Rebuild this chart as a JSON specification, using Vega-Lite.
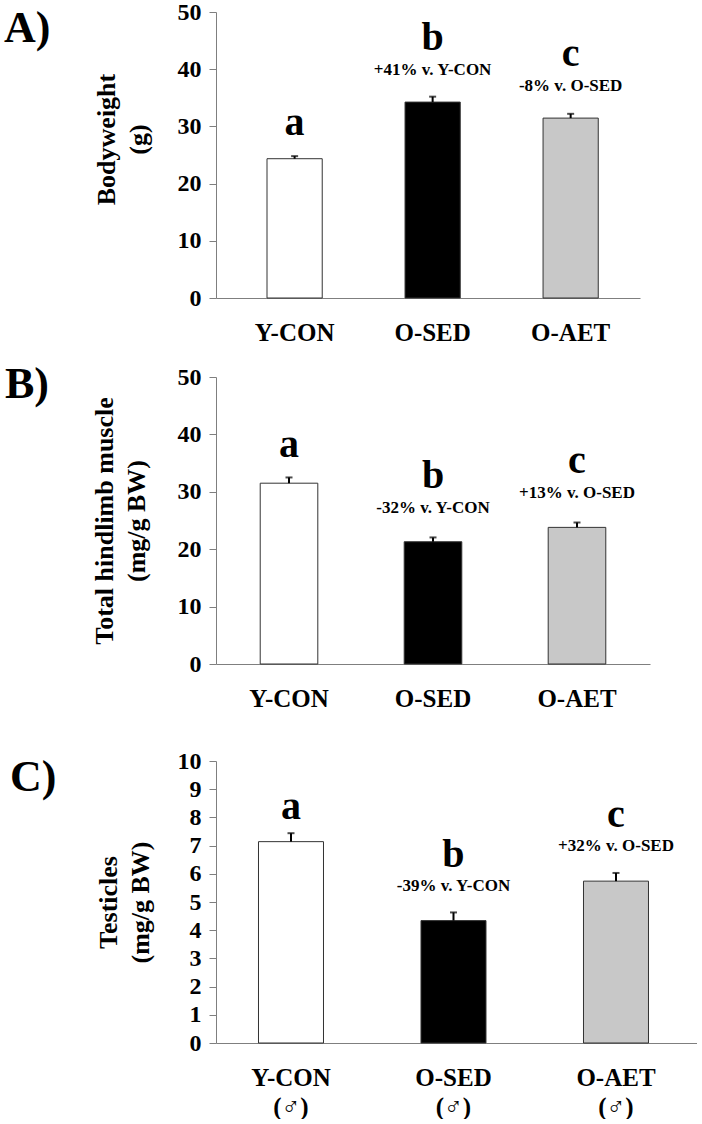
{
  "$schema": "https://vega.github.io/schema/vega-lite/v6.json",
  "background": "white",
  "padding": {"left": 4, "top": 0, "right": 0, "bottom": 0},
  "datasets": {
    "A": [
      {"group": "Y-CON", "value": 24.35, "upper": 24.8, "letter": "a", "note": ""},
      {"group": "O-SED", "value": 34.25, "upper": 35.2, "letter": "b", "note": "+41% v. Y-CON"},
      {"group": "O-AET", "value": 31.45, "upper": 32.2, "letter": "c", "note": "-8% v. O-SED"}
    ],
    "B": [
      {"group": "Y-CON", "value": 31.5, "upper": 32.5, "letter": "a", "note": ""},
      {"group": "O-SED", "value": 21.3, "upper": 22.05, "letter": "b", "note": "-32% v. Y-CON"},
      {"group": "O-AET", "value": 23.8, "upper": 24.65, "letter": "c", "note": "+13% v. O-SED"}
    ],
    "C": [
      {"group": "Y-CON", "value": 7.14, "upper": 7.44, "letter": "a", "note": ""},
      {"group": "O-SED", "value": 4.34, "upper": 4.63, "letter": "b", "note": "-39% v. Y-CON"},
      {"group": "O-AET", "value": 5.74, "upper": 6.03, "letter": "c", "note": "+32% v. O-SED"}
    ]
  },
  "config": {
    "view": {"stroke": null},
    "font": "Liberation Serif",
    "axis": {
      "grid": false,
      "domainColor": "#7f7f7f",
      "tickColor": "#7f7f7f",
      "labelFont": "Liberation Serif",
      "labelFontWeight": "bold",
      "labelColor": "black",
      "titleFont": "Liberation Serif",
      "titleFontWeight": "bold",
      "titleColor": "black"
    },
    "axisX": {"ticks": false, "labelAngle": 0, "labelPadding": 22, "labelFontSize": 25, "title": null},
    "axisY": {"tickSize": 7, "labelPadding": 8, "labelFontSize": 24, "titleFontSize": 26, "titleLineHeight": 32},
    "title": {
      "font": "Liberation Serif",
      "fontSize": 44,
      "fontWeight": "bold",
      "color": "black",
      "anchor": "start",
      "frame": "group",
      "offset": 0,
      "baseline": "alphabetic"
    }
  },
  "spacing": 38,
  "vconcat": [
    {
      "spacing": 18,
      "vconcat": [
        {
          "width": 424,
          "height": 286,
          "data": {"name": "A"},
          "title": {"text": "A)", "dx": -212, "dy": 55},
          "encoding": {
            "x": {"field": "group", "type": "nominal", "sort": ["Y-CON", "O-SED", "O-AET"],
                  "scale": {"paddingInner": 0.6, "paddingOuter": 0.336, "align": 0.55}}
          },
          "layer": [
            {
              "mark": {"type": "bar", "stroke": "#333333", "strokeWidth": 1},
              "encoding": {
                "y": {"field": "value", "type": "quantitative",
                      "scale": {"domain": [0, 50], "nice": false},
                      "axis": {"values": [0, 10, 20, 30, 40, 50], "tickCount": 20, "format": "d", "labelOverlap": false, "title": ["Bodyweight", "(g)"], "titlePadding": 26, "titleY": 127}},
                "color": {"field": "group", "type": "nominal",
                          "scale": {"domain": ["Y-CON", "O-SED", "O-AET"], "range": ["#ffffff", "#000000", "#c8c8c8"]},
                          "legend": null}
              }
            },
            {
              "mark": {"type": "rule", "color": "black", "strokeWidth": 2},
              "encoding": {"y": {"field": "value", "type": "quantitative"}, "y2": {"field": "upper"}}
            },
            {
              "mark": {"type": "tick", "color": "black", "thickness": 2, "size": 7},
              "encoding": {"y": {"field": "upper", "type": "quantitative"}}
            },
            {
              "transform": [{"filter": "datum.note != ''"}],
              "mark": {"type": "text", "fontSize": 17, "fontWeight": "bold", "baseline": "alphabetic", "dy": -27, "color": "black"},
              "encoding": {"y": {"field": "value", "type": "quantitative"}, "text": {"field": "note"}}
            },
            {
              "transform": [{"filter": "datum.note != ''"}],
              "mark": {"type": "text", "fontSize": 40, "fontWeight": "bold", "baseline": "alphabetic", "dy": -52, "color": "black"},
              "encoding": {"y": {"field": "value", "type": "quantitative"}, "text": {"field": "letter"}}
            },
            {
              "transform": [{"filter": "datum.note == ''"}],
              "mark": {"type": "text", "fontSize": 40, "fontWeight": "bold", "baseline": "alphabetic", "dy": -24, "color": "black"},
              "encoding": {"y": {"field": "value", "type": "quantitative"}, "text": {"field": "letter"}}
            }
          ]
        },
        {
          "width": 434,
          "height": 287,
          "data": {"name": "B"},
          "title": {"text": "B)", "dx": -211, "dy": 46},
          "encoding": {
            "x": {"field": "group", "type": "nominal", "sort": ["Y-CON", "O-SED", "O-AET"],
                  "scale": {"paddingInner": 0.6, "paddingOuter": 0.307, "align": 0.5}}
          },
          "layer": [
            {
              "mark": {"type": "bar", "stroke": "#333333", "strokeWidth": 1},
              "encoding": {
                "y": {"field": "value", "type": "quantitative",
                      "scale": {"domain": [0, 50], "nice": false},
                      "axis": {"values": [0, 10, 20, 30, 40, 50], "tickCount": 20, "format": "d", "labelOverlap": false, "title": ["Total hindlimb muscle", "(mg/g BW)"], "titlePadding": 28}},
                "color": {"field": "group", "type": "nominal",
                          "scale": {"domain": ["Y-CON", "O-SED", "O-AET"], "range": ["#ffffff", "#000000", "#c8c8c8"]},
                          "legend": null}
              }
            },
            {
              "mark": {"type": "rule", "color": "black", "strokeWidth": 2},
              "encoding": {"y": {"field": "value", "type": "quantitative"}, "y2": {"field": "upper"}}
            },
            {
              "mark": {"type": "tick", "color": "black", "thickness": 2, "size": 7},
              "encoding": {"y": {"field": "upper", "type": "quantitative"}}
            },
            {
              "transform": [{"filter": "datum.note != ''"}],
              "mark": {"type": "text", "fontSize": 17, "fontWeight": "bold", "baseline": "alphabetic", "dy": -29, "color": "black"},
              "encoding": {"y": {"field": "value", "type": "quantitative"}, "text": {"field": "note"}}
            },
            {
              "transform": [{"filter": "datum.note != ''"}],
              "mark": {"type": "text", "fontSize": 40, "fontWeight": "bold", "baseline": "alphabetic", "dy": -54, "color": "black"},
              "encoding": {"y": {"field": "value", "type": "quantitative"}, "text": {"field": "letter"}}
            },
            {
              "transform": [{"filter": "datum.note == ''"}],
              "mark": {"type": "text", "fontSize": 40, "fontWeight": "bold", "baseline": "alphabetic", "dy": -26, "color": "black"},
              "encoding": {"y": {"field": "value", "type": "quantitative"}, "text": {"field": "letter"}}
            }
          ]
        }
      ]
    },
    {
      "width": 481,
      "height": 282,
      "data": {"name": "C"},
      "title": {"text": "C)", "dx": -206, "dy": 55},
      "encoding": {
        "x": {"field": "group", "type": "nominal", "sort": ["Y-CON", "O-SED", "O-AET"],
              "scale": {"paddingInner": 0.6, "paddingOuter": 0.28, "align": 0.467},
              "axis": {"labelExpr": "[datum.label, '(♂)']", "labelLineHeight": 29}}
      },
      "layer": [
        {
          "mark": {"type": "bar", "stroke": "#333333", "strokeWidth": 1},
          "encoding": {
            "y": {"field": "value", "type": "quantitative",
                  "scale": {"domain": [0, 10], "nice": false},
                  "axis": {"values": [0, 1, 2, 3, 4, 5, 6, 7, 8, 9, 10], "tickCount": 20, "format": "d", "labelOverlap": false, "title": ["Testicles", "(mg/g BW)"], "titlePadding": 24}},
            "color": {"field": "group", "type": "nominal",
                      "scale": {"domain": ["Y-CON", "O-SED", "O-AET"], "range": ["#ffffff", "#000000", "#c8c8c8"]},
                      "legend": null}
          }
        },
        {
          "mark": {"type": "rule", "color": "black", "strokeWidth": 2},
          "encoding": {"y": {"field": "value", "type": "quantitative"}, "y2": {"field": "upper"}}
        },
        {
          "mark": {"type": "tick", "color": "black", "thickness": 2, "size": 7},
          "encoding": {"y": {"field": "upper", "type": "quantitative"}}
        },
        {
          "transform": [{"filter": "datum.note != ''"}],
          "mark": {"type": "text", "fontSize": 17, "fontWeight": "bold", "baseline": "alphabetic", "dy": -30, "color": "black"},
          "encoding": {"y": {"field": "value", "type": "quantitative"}, "text": {"field": "note"}}
        },
        {
          "transform": [{"filter": "datum.note != ''"}],
          "mark": {"type": "text", "fontSize": 40, "fontWeight": "bold", "baseline": "alphabetic", "dy": -54, "color": "black"},
          "encoding": {"y": {"field": "value", "type": "quantitative"}, "text": {"field": "letter"}}
        },
        {
          "transform": [{"filter": "datum.note == ''"}],
          "mark": {"type": "text", "fontSize": 40, "fontWeight": "bold", "baseline": "alphabetic", "dy": -23, "color": "black"},
          "encoding": {"y": {"field": "value", "type": "quantitative"}, "text": {"field": "letter"}}
        }
      ]
    }
  ]
}
